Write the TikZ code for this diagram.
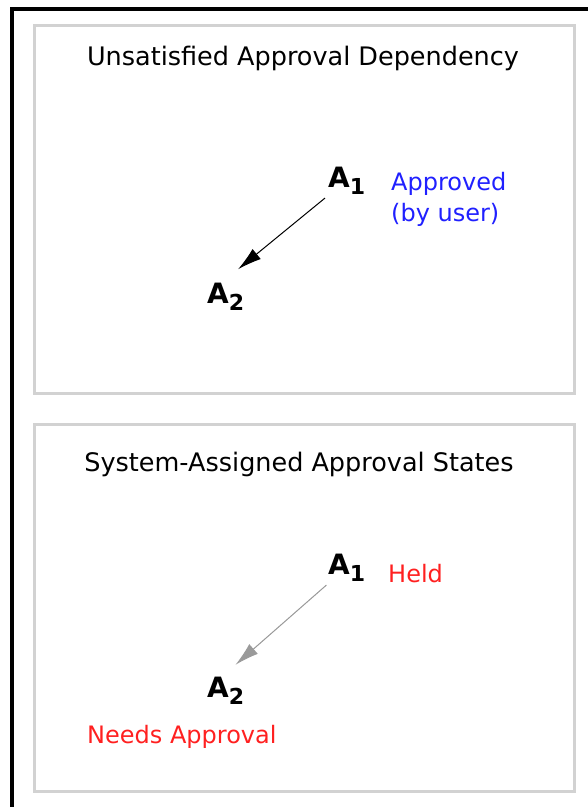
\documentclass[tikz,border=0pt]{standalone}
\usepackage{fontspec}
\setmainfont{DejaVu Sans}
\usetikzlibrary{arrows.meta}
\definecolor{panelgray}{HTML}{D2D2D2}
\definecolor{arrgray}{HTML}{9A9A9A}
\definecolor{apblue}{HTML}{2020FF}
\definecolor{apred}{HTML}{FF2020}
\newcommand{\actv}[1]{\textbf{A}\raisebox{-7pt}{\fontsize{22}{22}\selectfont\textbf{#1}}}
\begin{document}
\begin{tikzpicture}[x=1pt,y=-1pt,
    panel/.style={draw=panelgray,line width=3pt},
    title/.style={anchor=base,inner sep=0,font=\fontsize{25.5}{30}\selectfont},
    act/.style={anchor=base west,inner sep=3pt,font=\fontsize{28}{30}\selectfont},
    state/.style={anchor=base west,inner sep=0,font=\fontsize{24}{31}\selectfont},
    arr/.style={-{Latex[length=24pt,width=13pt]},line width=1pt}]
    \useasboundingbox (0,0) rectangle (588,807);
    \draw[line width=4pt] (12,807) -- (12,9) -- (588,9);
    % upper panel
    \draw[panel] (34,25) rectangle (574,393);
    \node[title] (title1) at (303,65) {Unsatisfied Approval Dependency};
    \node[act] (a1) at (325,187) {\actv{1}};
    \node[act] (a2) at (204,303) {\actv{2}};
    \node[state,anchor=north west,align=left,text=apblue] (approved) at (391,172) {Approved\\(by user)};
    \draw[arr,shorten <=28pt,shorten >=16pt] (a1.center) -- (a2.north);
    % lower panel
    \draw[panel] (34,424) rectangle (574,791);
    \node[title] (title2) at (299,471) {System-Assigned Approval States};
    \node[act] (b1) at (325,574) {\actv{1}};
    \node[act] (b2) at (204,697) {\actv{2}};
    \node[state,text=apred] (held) at (388,582) {Held};
    \node[state,text=apred] (needs) at (87,743) {Needs Approval};
    \draw[arr,draw=arrgray,fill=arrgray,shorten <=27pt,shorten >=13pt] (b1.center) -- (b2.north);
\end{tikzpicture}
\end{document}
